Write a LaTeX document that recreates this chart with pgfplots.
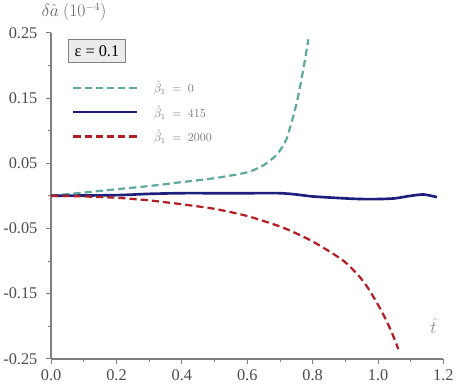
\documentclass[border=0pt]{standalone}
\usepackage{pgfplots}
\pgfplotsset{compat=1.18}
\usepackage{fontspec}
\setmainfont{Liberation Serif}

\definecolor{tealc}{RGB}{95,170,160}
\definecolor{navyc}{RGB}{30,30,125}
\definecolor{redc}{RGB}{180,30,35}
\definecolor{axc}{RGB}{128,128,128}

\begin{document}
\begin{tikzpicture}
\begin{axis}[
  scale only axis,
  width=385pt, height=320pt,
  xmin=0, xmax=1.2, ymin=-0.25, ymax=0.25,
  axis lines*=left,
  axis line style={axc, line width=1.6pt},
  tick style={axc, line width=0.9pt},
  tick align=outside,
  major tick length=5pt, minor tick length=3pt,
  xtick={0,0.2,...,1.2},
  minor xtick={0.1,0.3,...,1.1},
  ytick={-0.25,-0.15,-0.05,0.05,0.15,0.25},
  minor ytick={-0.2,-0.1,0,0.1,0.2},
  xticklabel style={font=\fontsize{16}{18}\selectfont, text=black!70, yshift=-2pt, /pgf/number format/.cd, fixed, fixed zerofill, precision=1, assume math mode=true},
  yticklabel style={font=\fontsize{16}{18}\selectfont, text=black!70, xshift=-5pt, /pgf/number format/.cd, fixed, fixed zerofill, precision=2, assume math mode=true},
  clip=false,
  legend style={at={(0.045,0.865)}, anchor=north west, draw=none, fill=white,
    font=\fontsize{12}{14}\selectfont, text=black!55, row sep=7pt,
    /tikz/every odd column/.append style={column sep=14pt}},
  legend cell align=left,
  legend image code/.code={\draw[#1] (0pt,0pt) -- (62pt,0pt);},
]
\addplot[tealc, line width=2.2pt, dash pattern=on 7pt off 4pt, smooth, tension=0.4] coordinates {
  (0,0) (0.1,0.005) (0.2,0.010) (0.3,0.015) (0.4,0.021) (0.5,0.027)
  (0.6,0.036) (0.65,0.047) (0.69,0.063) (0.72,0.087) (0.75,0.14)
  (0.77,0.19) (0.787,0.24)
};
\addlegendentry{$\hat{\beta}_1\ =\ 0$}
\addplot[navyc, line width=2.6pt, smooth, tension=0.4] coordinates {
  (0,0) (0.2,0.001) (0.3,0.003) (0.4,0.004) (0.5,0.004) (0.6,0.004)
  (0.7,0.004) (0.75,0.002) (0.8,-0.001) (0.9,-0.004) (0.95,-0.005)
  (1.0,-0.005) (1.05,-0.004) (1.1,0.0) (1.14,0.002) (1.18,-0.002)
};
\addlegendentry{$\hat{\beta}_1\ =\ 415$}
\addplot[redc, line width=2.2pt, dash pattern=on 7pt off 4pt, smooth, tension=0.4] coordinates {
  (0,0) (0.1,-0.001) (0.2,-0.003) (0.3,-0.007) (0.4,-0.013) (0.5,-0.020)
  (0.6,-0.031) (0.7,-0.047) (0.76,-0.060) (0.8,-0.070) (0.86,-0.088)
  (0.9,-0.102) (0.94,-0.122) (0.97,-0.142) (1.01,-0.176) (1.04,-0.207) (1.062,-0.235)
};
\addlegendentry{$\hat{\beta}_1\ =\ 2000$}
\node[draw=axc, line width=1.4pt, fill=black!8, inner sep=6pt,
  font=\fontsize{16}{18}\selectfont] at (axis cs:0.14,0.222) {ε = 0.1};
\node[anchor=south west, font=\fontsize{16}{18}\selectfont, text=black!60]
  at (axis cs:-0.04,0.262) {$\delta\hat{a}$ $(10^{-4})$};
\node[font=\fontsize{18}{20}\selectfont, text=black!45] at (axis cs:1.17,-0.2) {$\hat{t}$};
\end{axis}
\end{tikzpicture}
\end{document}
